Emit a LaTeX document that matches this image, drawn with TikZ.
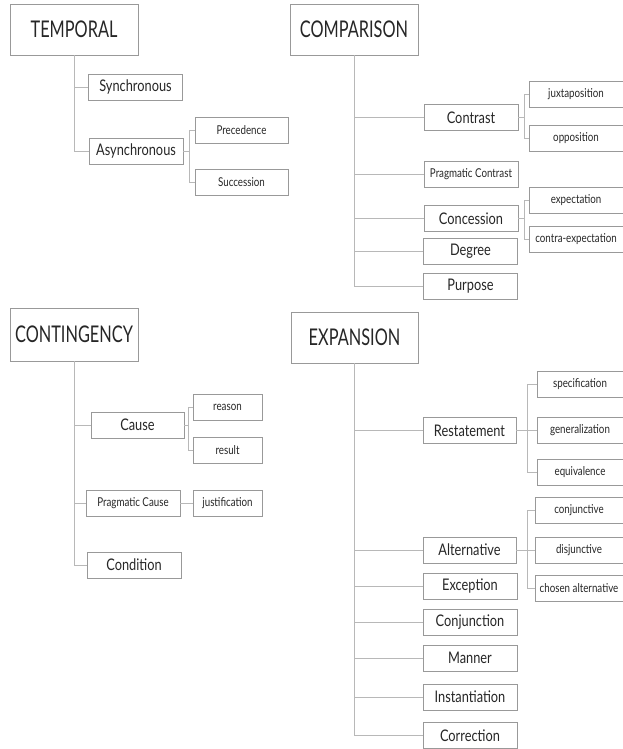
\documentclass[tikz,border=0pt]{standalone}
\usepackage{fontspec}
\setmainfont{Lato}[FakeStretch=0.8]
\newfontfamily\clsfont{Lato}[FakeStretch=0.71]
\usepackage{tikz}

\begin{document}
\begin{tikzpicture}[x=1pt,y=-1pt,
  cls/.style={draw=black!40, line width=0.8pt, text=black!85, inner sep=0pt,
    minimum width=128pt, minimum height=51pt, font=\clsfont\fontsize{23}{25}\selectfont},
  sub/.style={draw=black!40, line width=0.8pt, text=black!85, inner sep=0pt,
    minimum width=94pt, minimum height=26pt, font=\fontsize{16}{18}\selectfont},
  leaf/.style={sub, font=\fontsize{12.2}{14}\selectfont},
  link/.style={draw=black!28, line width=0.9pt}]

\useasboundingbox (0,0) rectangle (622,749);

% temporal
\node[cls] (temporal) at (74,29.5) {TEMPORAL};
\node[sub] (sync) at (135.5,87) {Synchronous};
\node[sub] (async) at (136,151) {Asynchronous};
\node[leaf, minimum width=93pt] (prec) at (241.5,130.5) {Precedence};
\node[leaf, minimum width=93pt] (succ) at (241.5,182.5) {Succession};
\draw[link] (temporal.south) |- (sync.west);
\draw[link] (temporal.south) |- (async.west);
\draw[link] (async.east) -- ++(6,0) coordinate (ab) |- (prec.west);
\draw[link] (ab) |- (succ.west);

% comparison
\node[cls] (comparison) at (354,29.5) {COMPARISON};
\node[sub] (contrast) at (471,117.5) {Contrast};
\node[leaf] (juxt) at (576,94.5) {juxtaposition};
\node[leaf] (oppo) at (576,138.5) {opposition};
\node[leaf] (pcontrast) at (471,174.5) {Pragmatic Contrast};
\node[sub] (concess) at (471,218.5) {Concession};
\node[leaf] (expect) at (576,200) {expectation};
\node[leaf] (cexpect) at (576,239.5) {contra-expectation};
\node[sub] (degree) at (470.5,251) {Degree};
\node[sub] (purpose) at (470.5,286) {Purpose};
\foreach \n in {contrast,pcontrast,concess,degree,purpose}
  \draw[link] (comparison.south) |- (\n.west);
\draw[link] (contrast.east) -- ++(6,0) coordinate (cb) |- (juxt.west);
\draw[link] (cb) |- (oppo.west);
\draw[link] (concess.east) -- ++(6,0) coordinate (kb) |- (expect.west);
\draw[link] (kb) |- (cexpect.west);

% contingency
\node[cls, minimum height=53pt] (contingency) at (74,334.5) {CONTINGENCY};
\node[sub, minimum width=93pt] (cause) at (137.5,425) {Cause};
\node[leaf, minimum width=69pt] (reason) at (227.5,407) {reason};
\node[leaf, minimum width=69pt] (result) at (227.5,450) {result};
\node[leaf] (pcause) at (133,503) {Pragmatic Cause};
\node[leaf, minimum width=69pt] (justif) at (227.5,503) {justification};
\node[sub] (cond) at (134,565) {Condition};
\foreach \n in {cause,pcause,cond}
  \draw[link] (contingency.south) |- (\n.west);
\draw[link] (cause.east) -- ++(4,0) coordinate (sb) |- (reason.west);
\draw[link] (sb) |- (result.west);
\draw[link] (pcause) -- (justif);

% expansion
\node[cls, minimum width=127pt] (expansion) at (354.5,337.5) {EXPANSION};
\node[sub, minimum width=93pt] (restate) at (469.5,430.5) {Restatement};
\node[leaf, minimum width=86pt] (spec) at (580,384) {specification};
\node[leaf, minimum width=86pt] (gener) at (580,430.5) {generalization};
\node[leaf, minimum width=86pt] (equiv) at (580,472) {equivalence};
\node[sub, minimum width=93pt] (alt) at (469.5,550) {Alternative};
\node[leaf, minimum width=88pt] (conjv) at (579,510) {conjunctive};
\node[leaf, minimum width=88pt] (disjv) at (579,550) {disjunctive};
\node[leaf, minimum width=88pt] (chosen) at (579,588) {chosen alternative};
\node[sub] (except) at (470,586) {Exception};
\node[sub] (conj) at (470,622) {Conjunction};
\node[sub] (manner) at (470,658) {Manner};
\node[sub] (inst) at (470,697) {Instantiation};
\node[sub] (corr) at (470,735.5) {Correction};
\foreach \n in {restate,alt,except,conj,manner,inst,corr}
  \draw[link] (expansion.south) |- (\n.west);
\draw[link] (restate.east) -- ++(11,0) coordinate (rb) |- (spec.west);
\draw[link] (rb) -- (gener.west);
\draw[link] (rb) |- (equiv.west);
\draw[link] (alt.east) -- ++(11,0) coordinate (lb) |- (conjv.west);
\draw[link] (lb) -- (disjv.west);
\draw[link] (lb) |- (chosen.west);
\end{tikzpicture}
\end{document}
